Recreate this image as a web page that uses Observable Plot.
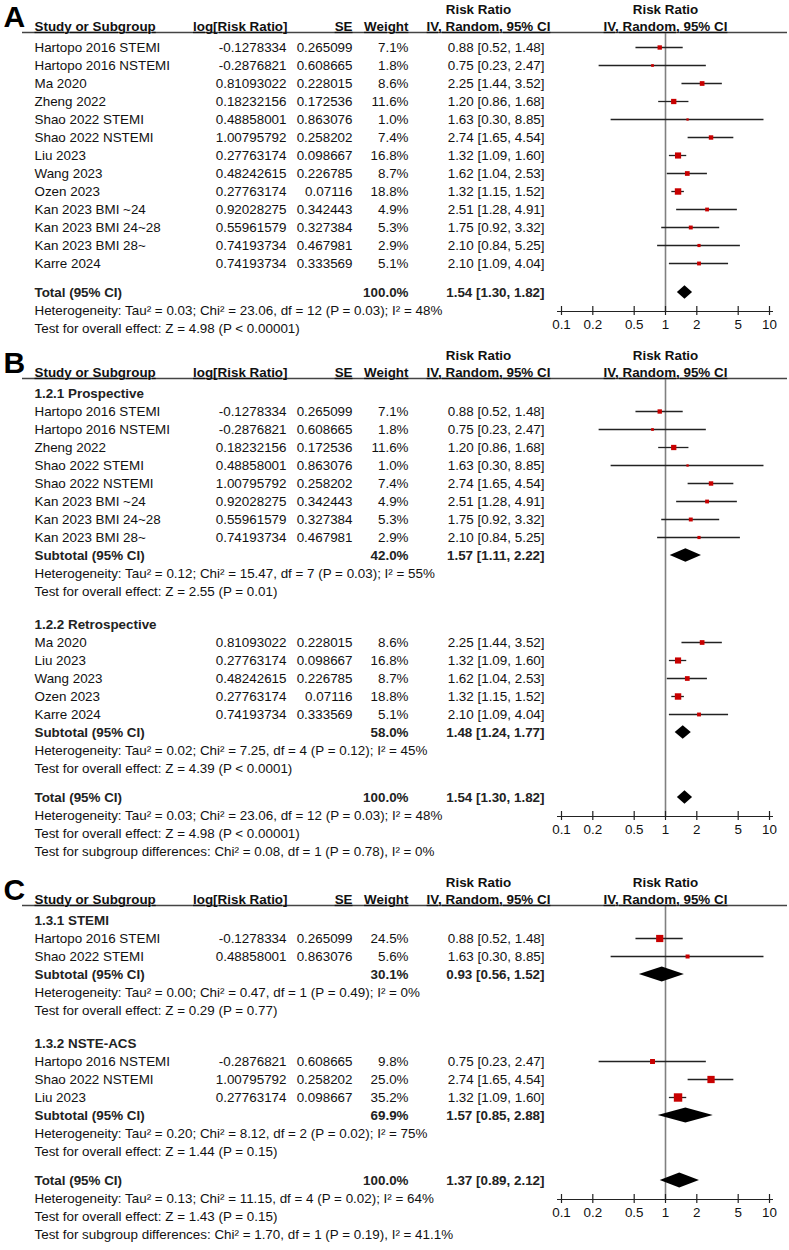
<!DOCTYPE html>
<html><head><meta charset="utf-8">
<script src="https://cdn.jsdelivr.net/npm/d3@7"></script>
<script src="https://cdn.jsdelivr.net/npm/@observablehq/plot@0.6"></script>
<style>
body{margin:0;background:#fff;}
#fig{position:relative;width:789px;height:1250px;overflow:hidden;background:#fff;}
.panel{position:absolute;left:0;width:789px;overflow:hidden;}
.panel svg{position:absolute;left:0;top:0;}
</style></head><body><div id="fig"></div>
<script>
// ---------------- data ----------------
const studies = ["Hartopo 2016 STEMI","Hartopo 2016 NSTEMI","Ma 2020","Zheng 2022","Shao 2022 STEMI","Shao 2022 NSTEMI","Liu 2023","Wang 2023","Ozen 2023","Kan 2023 BMI ~24","Kan 2023 BMI 24~28","Kan 2023 BMI 28~","Karre 2024"];
const logRR = ["-0.1278334","-0.2876821","0.81093022","0.18232156","0.48858001","1.00795792","0.27763174","0.48242615","0.27763174","0.92028275","0.55961579","0.74193734","0.74193734"];
const seVals = ["0.265099","0.608665","0.228015","0.172536","0.863076","0.258202","0.098667","0.226785","0.07116","0.342443","0.327384","0.467981","0.333569"];
const rrEst  = [0.88,0.75,2.25,1.20,1.63,2.74,1.32,1.62,1.32,2.51,1.75,2.10,2.10];
const rrLow  = [0.52,0.23,1.44,0.86,0.30,1.65,1.09,1.04,1.15,1.28,0.92,0.84,1.09];
const rrHigh = [1.48,2.47,3.52,1.68,8.85,4.54,1.60,2.53,1.52,4.91,3.32,5.25,4.04];
const weightA = [7.1,1.8,8.6,11.6,1.0,7.4,16.8,8.7,18.8,4.9,5.3,2.9,5.1];

const totalAll = {w:"100.0%", est:1.54, lo:1.30, hi:1.82,
  het:"Heterogeneity: Tau² = 0.03; Chi² = 23.06, df = 12 (P = 0.03); I² = 48%",
  z:"Test for overall effect: Z = 4.98 (P < 0.00001)"};

const groupsB = ["1.2.1 Prospective","1.2.2 Retrospective"];
const membersB = [[0,1,3,4,5,9,10,11],[2,6,7,8,12]];
const subB = [
  {w:"42.0%", est:1.57, lo:1.11, hi:2.22, het:"Heterogeneity: Tau² = 0.12; Chi² = 15.47, df = 7 (P = 0.03); I² = 55%", z:"Test for overall effect: Z = 2.55 (P = 0.01)"},
  {w:"58.0%", est:1.48, lo:1.24, hi:1.77, het:"Heterogeneity: Tau² = 0.02; Chi² = 7.25, df = 4 (P = 0.12); I² = 45%", z:"Test for overall effect: Z = 4.39 (P < 0.0001)"}
];
const diffB = "Test for subgroup differences: Chi² = 0.08, df = 1 (P = 0.78), I² = 0%";

const groupsC = ["1.3.1 STEMI","1.3.2 NSTE-ACS"];
const membersC = [[0,4],[1,5,6]];
const weightsC = [[24.5,5.6],[9.8,25.0,35.2]];
const subC = [
  {w:"30.1%", est:0.93, lo:0.56, hi:1.52, het:"Heterogeneity: Tau² = 0.00; Chi² = 0.47, df = 1 (P = 0.49); I² = 0%", z:"Test for overall effect: Z = 0.29 (P = 0.77)"},
  {w:"69.9%", est:1.57, lo:0.85, hi:2.88, het:"Heterogeneity: Tau² = 0.20; Chi² = 8.12, df = 2 (P = 0.02); I² = 75%", z:"Test for overall effect: Z = 1.44 (P = 0.15)"}
];
const totalC = {w:"100.0%", est:1.37, lo:0.89, hi:2.12,
  het:"Heterogeneity: Tau² = 0.13; Chi² = 11.15, df = 4 (P = 0.02); I² = 64%",
  z:"Test for overall effect: Z = 1.43 (P = 0.15)"};
const diffC = "Test for subgroup differences: Chi² = 1.70, df = 1 (P = 0.19), I² = 41.1%";

const ticks = [0.1,0.2,0.5,1,2,5,10];
const headCols = ["Study or Subgroup","log[Risk Ratio]","SE","Weight"];
const headRR = ["Risk Ratio","IV, Random, 95% CI"];

// ---------------- layout ----------------
const W = 789;
const PITCH = 18.0, FIRST = 15, GAP_TOTAL = 11, GAP_HEAD = 15;
const COL = {name:34, logrr:286, se:352, weight:408, ci:544, rr1:478, rr2:488, ruleL:22, ruleR:787, letter:3};
const FOREST_RANGE = [561, 769];
const FONT = "Arial, 'Liberation Sans', Helvetica, sans-serif";
const FS = 13.4;
const INK = "#111";
const underlined = new Set(["Study or Subgroup","log[Risk Ratio]","SE","Weight","IV, Random, 95% CI"]);

const fmtCI = (e,l,h) => `${e.toFixed(2)} [${l.toFixed(2)}, ${h.toFixed(2)}]`;
const studyLine = (i, w) => ({kind:"study", name:studies[i], logrr:logRR[i], se:seVals[i],
  wNum:w, wText:w.toFixed(1)+"%", est:rrEst[i], lo:rrLow[i], hi:rrHigh[i], ci:fmtCI(rrEst[i],rrLow[i],rrHigh[i])});
const sumLine = (kind, name, s) => ({kind, name, wText:s.w, est:s.est, lo:s.lo, hi:s.hi, ci:fmtCI(s.est,s.lo,s.hi)});

function place(lines, rule) {
  let y = rule + FIRST;
  lines.forEach((l, k) => {
    if (k > 0) {
      y += PITCH;
      if (l.kind === "total") y += GAP_TOTAL;
      if (l.kind === "heading") y += GAP_HEAD;
    }
    l.y = y;
  });
  return lines;
}

// Panel A
const linesA = [
  ...studies.map((_, i) => studyLine(i, weightA[i])),
  sumLine("total", "Total (95% CI)", totalAll),
  {kind:"stat", name: totalAll.het},
  {kind:"stat", name: totalAll.z}
];
// Panel B
const linesB = [];
groupsB.forEach((g, gi) => {
  linesB.push({kind:"heading", name:g});
  membersB[gi].forEach(i => linesB.push(studyLine(i, weightA[i])));
  linesB.push(sumLine("subtotal", "Subtotal (95% CI)", subB[gi]));
  linesB.push({kind:"stat", name: subB[gi].het});
  linesB.push({kind:"stat", name: subB[gi].z});
});
linesB.push(sumLine("total", "Total (95% CI)", totalAll), {kind:"stat", name: totalAll.het}, {kind:"stat", name: totalAll.z}, {kind:"stat", name: diffB});
// Panel C
const linesC = [];
groupsC.forEach((g, gi) => {
  linesC.push({kind:"heading", name:g});
  membersC[gi].forEach((i, k) => linesC.push(studyLine(i, weightsC[gi][k])));
  linesC.push(sumLine("subtotal", "Subtotal (95% CI)", subC[gi]));
  linesC.push({kind:"stat", name: subC[gi].het});
  linesC.push({kind:"stat", name: subC[gi].z});
});
linesC.push(sumLine("total", "Total (95% CI)", totalC), {kind:"stat", name: totalC.het}, {kind:"stat", name: totalC.z}, {kind:"stat", name: diffC});

const panels = [
  {letter:"A", lines:linesA, rule:32, top:0, h:345, dh:6.7},
  {letter:"B", lines:linesB, rule:378, top:345, h:517, dh:6.7},
  {letter:"C", lines:linesC, rule:905, top:862, h:388, dh:7.5}
];

function baseOpts(p) {
  return {width: W, height: p.h, margin: 0,
    y: {type:"linear", domain:[p.top, p.top + p.h], range:[0, p.h], axis:null},
    style: {fontFamily: FONT, fontSize: FS + "px", background: "transparent", color: INK, overflow: "visible"}};
}

function tablePlot(p) {
  const L = p.lines;
  const studyL = L.filter(l => l.kind === "study");
  const boldName = L.filter(l => l.kind === "heading" || l.kind === "subtotal" || l.kind === "total");
  const sums = L.filter(l => l.kind === "subtotal" || l.kind === "total");
  const stats = L.filter(l => l.kind === "stat");
  const hY = p.rule - 6, h1Y = p.rule - 23;
  const t = (data, o) => Plot.text(data, {fill: INK, fontSize: FS, ...o});
  return Plot.plot({...baseOpts(p),
    x: {type:"linear", domain:[0, W], range:[0, W], axis:null},
    marks: [
      Plot.text([p.letter], {x: () => COL.letter, y: () => p.rule - 15, textAnchor:"start", fontSize:30, fontWeight:"bold", fill:"#000"}),
      Plot.ruleY([p.rule], {x1: () => COL.ruleL, x2: () => COL.ruleR, y: d => d, stroke:"#444", strokeWidth:1.6}),
      t([headCols[0]], {x: () => COL.name, y: () => hY, textAnchor:"start", fontWeight:"bold"}),
      t([headCols[1]], {x: () => COL.logrr + 1, y: () => hY, textAnchor:"end", fontWeight:"bold"}),
      t([headCols[2]], {x: () => COL.se, y: () => hY, textAnchor:"end", fontWeight:"bold"}),
      t([headCols[3]], {x: () => COL.weight, y: () => hY, textAnchor:"end", fontWeight:"bold"}),
      t([headRR[0]], {x: () => COL.rr1, y: () => h1Y, fontWeight:"bold"}),
      t([headRR[1]], {x: () => COL.rr2, y: () => hY, fontWeight:"bold"}),
      // study rows
      t(studyL, {x: () => COL.name, y:"y", text:"name", textAnchor:"start"}),
      t(studyL, {x: () => COL.logrr, y:"y", text:"logrr", textAnchor:"end"}),
      t(studyL, {x: () => COL.se, y:"y", text:"se", textAnchor:"end"}),
      t(studyL, {x: () => COL.weight, y:"y", text:"wText", textAnchor:"end"}),
      t(studyL, {x: () => COL.ci, y:"y", text:"ci", textAnchor:"end"}),
      // headings, subtotals, totals
      t(boldName, {x: () => COL.name, y:"y", text:"name", textAnchor:"start", fontWeight:"bold", fill:"#222"}),
      t(sums, {x: () => COL.weight, y:"y", text:"wText", textAnchor:"end", fontWeight:"bold", fill:"#222"}),
      t(sums, {x: () => COL.ci, y:"y", text:"ci", textAnchor:"end", fontWeight:"bold", fill:"#222"}),
      // statistics lines
      t(stats, {x: () => COL.name, y:"y", text:"name", textAnchor:"start"})
    ]});
}

function forestPlot(p) {
  const L = p.lines;
  const studyL = L.filter(l => l.kind === "study");
  const sums = L.filter(l => l.kind === "subtotal" || l.kind === "total");
  const axisY = L.find(l => l.kind === "total").y + 19;
  const diamonds = sums.flatMap((s, k) => [
    {id:k, x:s.lo, y1:s.y, y2:s.y},
    {id:k, x:s.est, y1:s.y - p.dh, y2:s.y + p.dh},
    {id:k, x:s.hi, y1:s.y, y2:s.y}
  ]);
  return Plot.plot({...baseOpts(p),
    x: {type:"log", domain:[0.1, 10], range:FOREST_RANGE, axis:null},
    r: {type:"sqrt", domain:[0, 100], range:[0.6, 7.6]},
    marks: [
      Plot.ruleX([1], {x: d => d, y1: () => p.rule, y2: () => axisY, stroke:"#808080", strokeWidth:1.6}),
      Plot.ruleY(studyL, {x1:"lo", x2:"hi", y:"y", stroke:"#222", strokeWidth:1.3}),
      Plot.dot(studyL, {x:"est", y:"y", r:"wNum", symbol:"square", fill:"#c80000"}),
      Plot.areaY(diamonds, {x:"x", y1:"y1", y2:"y2", z:"id", fill:"#000", curve:"linear"}),
      Plot.ruleY([axisY], {x1: () => ticks[0], x2: () => ticks[ticks.length - 1], y: d => d, insetLeft:-4, insetRight:-4, stroke:"#222", strokeWidth:1.2}),
      Plot.ruleX(ticks, {x: d => d, y1: () => axisY - 5, y2: () => axisY + 4, stroke:"#222", strokeWidth:1.2}),
      Plot.text(ticks, {x: d => d, y: () => axisY + 13, text: d => String(d), fill: INK, fontSize: FS}),
      Plot.text([headRR[0]], {x: () => 1, y: () => p.rule - 23, fontWeight:"bold", fill: INK, fontSize: FS}),
      Plot.text([headRR[1]], {x: () => 1, y: () => p.rule - 6, fontWeight:"bold", fill: INK, fontSize: FS})
    ]});
}

const fig = document.getElementById("fig");
for (const p of panels) {
  place(p.lines, p.rule);
  const div = document.createElement("div");
  div.className = "panel";
  div.style.top = p.top + "px";
  div.style.height = p.h + "px";
  const a = tablePlot(p), b = forestPlot(p);
  for (const svg of [a, b]) {
    svg.querySelectorAll("text").forEach(el => {
      if (underlined.has(el.textContent)) el.style.textDecoration = "underline";
    });
    div.appendChild(svg);
  }
  fig.appendChild(div);
}
</script></body></html>
